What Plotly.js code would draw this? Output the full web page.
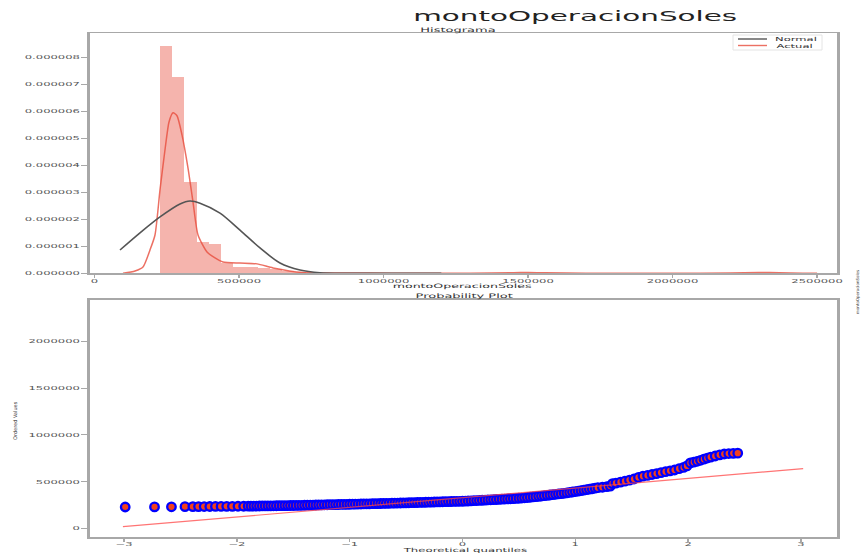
<!DOCTYPE html>
<html>
<head>
<meta charset="utf-8">
<script src="https://cdn.plot.ly/plotly-3.0.1.min.js"></script>
<style>
  html, body { margin: 0; padding: 0; background: #fff; }
  #chart { width: 863px; height: 553px; }
</style>
</head>
<body>
<div id="chart"></div>
<script>
// ---------------- DATA ----------------
const chartTitle = "montoOperacionSoles";
const histTitle = "Histograma";
const probTitle = "Probability Plot";
const histXLabel = "montoOperacionSoles";
const probXLabel = "Theoretical quantiles";
const probYLabel = "Ordered Values";
const sideLabel = "montoOperacionSoles";
const legendNames = ["Normal", "Actual"];

// histogram bins (centres) and density heights
const binCenters = [247700, 289900, 332100, 374300, 416500, 458700, 500900, 543100, 585300, 627500, 669700, 711900, 1513700, 2315500];
const binDensity = [8.44e-6, 7.26e-6, 3.40e-6, 1.15e-6, 1.10e-6, 0.37e-6, 0.25e-6, 0.22e-6, 0.18e-6, 0.15e-6, 0.10e-6, 0.05e-6, 0.02e-6, 0.02e-6];
const binWidth = 42200;

// kernel density estimate ("Actual")
const kdeX = [98600, 140100, 167800, 192000, 209300, 226600, 243900, 257800, 271600, 285400, 302700, 323500, 340800, 358100, 389200, 416900, 444500, 503400, 562200, 617600, 721400, 849400, 950000, 1100000, 1300000, 1450000, 1500000, 1560000, 1700000, 2000000, 2200000, 2300000, 2370000, 2450000, 2500000];
const kdeY = [0, 0.085e-6, 0.234e-6, 0.865e-6, 1.42e-6, 3.09e-6, 4.58e-6, 5.61e-6, 5.95e-6, 5.84e-6, 5.13e-6, 3.90e-6, 2.64e-6, 1.42e-6, 0.79e-6, 0.57e-6, 0.42e-6, 0.38e-6, 0.35e-6, 0.20e-6, 0.03e-6, 0.01e-6, 0.008e-6, 0.004e-6, 0.003e-6, 0.025e-6, 0.03e-6, 0.02e-6, 0.003e-6, 0.002e-6, 0.01e-6, 0.03e-6, 0.025e-6, 0.005e-6, 0];

// fitted normal curve ("Normal")
const normX = [88200, 157400, 226600, 295800, 330400, 365000, 434200, 503400, 572600, 641800, 711000, 780200, 884000, 1000000, 1200000];
const normY = [0.864e-6, 1.50e-6, 2.09e-6, 2.57e-6, 2.68e-6, 2.60e-6, 2.23e-6, 1.60e-6, 0.94e-6, 0.38e-6, 0.12e-6, 0.02e-6, 0.004e-6, 0, 0];

// probability plot: theoretical quantiles and ordered values
const osm = [
  -2.99, -2.73, -2.58, -2.46, -2.39, -2.34, -2.29, -2.24, -2.19, -2.14, -2.09, -2.04, -1.99, -1.94,
  -1.900, -1.875, -1.850, -1.825, -1.800, -1.775, -1.750, -1.725, -1.700, -1.675, -1.650, -1.625, -1.600, -1.575, -1.550, -1.525, -1.500,
  -1.475, -1.450, -1.425, -1.400, -1.375, -1.350, -1.325, -1.300, -1.275, -1.250, -1.225, -1.200, -1.175, -1.150, -1.125, -1.100, -1.075, -1.050, -1.025, -1.000,
  -0.975, -0.950, -0.925, -0.900, -0.875, -0.850, -0.825, -0.800, -0.775, -0.750, -0.725, -0.700, -0.675, -0.650, -0.625, -0.600, -0.575, -0.550, -0.525, -0.500,
  -0.475, -0.450, -0.425, -0.400, -0.375, -0.350, -0.325, -0.300, -0.275, -0.250, -0.225, -0.200, -0.175, -0.150, -0.125, -0.100, -0.075, -0.050, -0.025, 0.000,
  0.025, 0.050, 0.075, 0.100, 0.125, 0.150, 0.175, 0.200, 0.225, 0.250, 0.275, 0.300, 0.325, 0.350, 0.375, 0.400, 0.425, 0.450, 0.475, 0.500,
  0.525, 0.550, 0.575, 0.600, 0.625, 0.650, 0.675, 0.700, 0.725, 0.750, 0.775, 0.800, 0.825, 0.850, 0.875, 0.900,
  0.925, 0.950, 0.975, 1.000, 1.025, 1.050, 1.075, 1.100, 1.125, 1.150, 1.175, 1.200,
  1.24, 1.28, 1.31, 1.33, 1.36, 1.40, 1.44, 1.48, 1.52, 1.56, 1.60, 1.64, 1.68, 1.72, 1.76, 1.80, 1.84, 1.88, 1.92, 1.96, 1.99,
  2.02, 2.05, 2.08, 2.11, 2.14, 2.17, 2.20, 2.24, 2.28, 2.32, 2.36, 2.40, 2.44
];
const osr = [
  229000, 230000, 231000, 232000, 232500, 233000, 233500, 234000, 234500, 235000, 235500, 236000, 236500, 237000,
  237500, 238000, 238500, 239000, 239500, 240000, 240400, 240800, 241200, 241700, 242200, 242600, 243000, 243500, 244000, 244500, 245000,
  245600, 246200, 246900, 247500, 248200, 248800, 249500, 250100, 250800, 251400, 252100, 252700, 253400, 254000, 254700, 255300, 256000, 256600, 257300, 258000,
  258700, 259400, 260100, 260800, 261500, 262300, 263000, 263800, 264500, 265300, 266100, 266900, 267700, 268500, 269300, 270100, 270900, 271700, 272600, 273400,
  274300, 275100, 276000, 276900, 277800, 278700, 279600, 280500, 281400, 282300, 283200, 284100, 285000, 285900, 286800, 287600, 288400, 289000, 289500, 290000,
  291500, 293000, 294600, 296200, 297800, 299400, 301000, 302600, 304200, 305800, 307400, 309000, 310600, 312200, 313800, 315400, 317000, 318600, 320300, 322000,
  324500, 327200, 330000, 333000, 336000, 339200, 342500, 346000, 349500, 353000, 356800, 360500, 364300, 368000, 371500, 375000,
  379000, 384000, 389000, 394000, 399000, 404000, 409000, 414000, 419000, 424000, 429500, 435000,
  440000, 446000, 452000, 478000, 484000, 494000, 505000, 516000, 528000, 545000, 558000, 566000, 576000, 586000, 596000, 606000, 615000, 624000, 638000, 652000, 668000,
  700000, 708000, 717000, 728000, 740000, 752000, 762000, 774000, 786000, 795000, 800000, 802000, 804000
];

// least-squares line of the probability plot (end points)
const fitX = [-3.01, 3.02];
const fitY = [18000, 639000];

// tick values
const histXTicks = [0, 500000, 1000000, 1500000, 2000000, 2500000];
const histYTicks = [0, 1e-6, 2e-6, 3e-6, 4e-6, 5e-6, 6e-6, 7e-6, 8e-6];
const probXTicks = [-3, -2, -1, 0, 1, 2, 3];
const probYTicks = [0, 500000, 1000000, 1500000, 2000000];

// ---------------- STYLE ----------------
const FONT = "DejaVu Sans";
const axisGray = "#a8a8a8";
const tickFont = { family: FONT, size: 5.5, color: "#555" };
const kdeColor = "rgba(231,76,60,0.8)";
const barColor = "rgba(231,76,60,0.42)";
const normColor = "#555555";

const traces = [
  { type: "bar", x: binCenters, y: binDensity, width: binWidth,
    marker: { color: barColor, line: { width: 0 } }, xaxis: "x", yaxis: "y", hoverinfo: "skip" },
  { type: "scatter", mode: "lines", x: kdeX, y: kdeY, line: { color: kdeColor, width: 1.5, shape: "spline", smoothing: 0.6 },
    xaxis: "x", yaxis: "y", hoverinfo: "skip" },
  { type: "scatter", mode: "lines", x: normX, y: normY, line: { color: normColor, width: 1.6, shape: "spline", smoothing: 0.8 },
    xaxis: "x", yaxis: "y", hoverinfo: "skip" },
  { type: "scatter", mode: "markers", x: osm, y: osr,
    marker: { symbol: "circle", size: 8.5, color: "#f2401c", line: { color: "#0000ff", width: 2.3 } },
    xaxis: "x2", yaxis: "y2", hoverinfo: "skip" },
  { type: "scatter", mode: "lines", x: fitX, y: fitY, line: { color: "rgba(255,70,70,0.75)", width: 1.2 },
    xaxis: "x2", yaxis: "y2", hoverinfo: "skip" }
];

function axBase(extra) {
  return Object.assign({
    showgrid: false, zeroline: false, showline: true, mirror: true,
    linecolor: axisGray, ticks: "outside", tickcolor: axisGray,
    tickfont: tickFont, tickmode: "array", fixedrange: true
  }, extra);
}

// paper coordinates helpers (plot area: x 90..837, y 33..540)
const L = 90, R = 837, T = 33, B = 540;
const px = v => (v - L) / (R - L);
const py = v => (B - v) / (B - T);

function ann(text, x, y, size, extra) {
  return Object.assign({ text: text, xref: "paper", yref: "paper", x: px(x), y: py(y),
    xanchor: "center", yanchor: "middle", showarrow: false, borderpad: 0,
    font: { family: FONT, size: size, color: "#333" } }, extra || {});
}

const layout = {
  width: 863, height: 553,
  margin: { l: L, r: 863 - R, t: T, b: 553 - B, pad: 0 },
  paper_bgcolor: "#fff", plot_bgcolor: "#fff",
  showlegend: false, bargap: 0,
  xaxis: axBase({ domain: [0, 1], anchor: "y", range: [-15600, 2569000], tickvals: histXTicks,
    ticktext: histXTicks.map(v => String(v)), linewidth: 1.5, ticklen: 3, tickwidth: 1.5, ticklabelstandoff: -1 }),
  yaxis: axBase({ domain: [0.526, 1], anchor: "x", range: [0, 8.905e-6], tickvals: histYTicks,
    ticktext: histYTicks.map(v => v.toFixed(6)), linewidth: 3, ticklen: 6, tickwidth: 1 }),
  xaxis2: axBase({ domain: [0, 1], anchor: "y2", range: [-3.302, 3.320], tickvals: probXTicks,
    ticktext: probXTicks.map(v => (v < 0 ? "\u2212" + Math.abs(v) : String(v))), linewidth: 1.5, ticklen: 3, tickwidth: 1.5, ticklabelstandoff: -2 }),
  yaxis2: axBase({ domain: [0.0059, 0.4734], anchor: "x2", range: [-92000, 2441000], tickvals: probYTicks,
    ticktext: probYTicks.map(v => String(v)), linewidth: 3, ticklen: 6, tickwidth: 1 }),
  shapes: [
    // legend frame and sample lines
    { type: "rect", xref: "paper", yref: "paper", x0: px(733), x1: px(822), y0: py(50), y1: py(35),
      line: { color: "#e4e4e4", width: 1 }, fillcolor: "rgba(255,255,255,0.8)" },
    { type: "line", xref: "paper", yref: "paper", x0: px(738), x1: px(767), y0: py(39), y1: py(39),
      line: { color: normColor, width: 1.4 } },
    { type: "line", xref: "paper", yref: "paper", x0: px(738), x1: px(767), y0: py(45.5), y1: py(45.5),
      line: { color: kdeColor, width: 1.4 } }
  ],
  annotations: [
    ann(chartTitle, 575, 16, 14, { font: { family: FONT, size: 14, color: "#222" } }),
    ann(histTitle, 458, 29.5, 6.2),
    ann(histXLabel, 462, 285.5, 6),
    ann(probTitle, 464, 296, 6.2),
    ann(probXLabel, 465, 550.5, 5.6),
    ann(probYLabel, 15, 421, 5, { textangle: -90 }),
    ann(sideLabel, 857, 292, 4, { textangle: -90 }),
    ann(legendNames[0], 796, 39, 5.5),
    ann(legendNames[1], 795, 45.5, 5.5)
  ]
};

const gd = document.getElementById("chart");
Plotly.newPlot(gd, traces, layout, { displayModeBar: false, staticPlot: true }).then(function () {
  // the reference picture is stretched horizontally: widen every horizontal text
  const S = 2.1;
  gd.querySelectorAll("text").forEach(function (t) {
    for (let e = t; e && e !== gd; e = e.parentNode) {
      const tr = e.getAttribute && e.getAttribute("transform");
      if (tr && /rotate\(-90/.test(tr)) return;
    }
    const w = t.getComputedTextLength();
    if (w > 0) {
      t.setAttribute("textLength", (w * S).toFixed(2));
      t.setAttribute("lengthAdjust", "spacingAndGlyphs");
    }
  });
});
</script>
</body>
</html>
